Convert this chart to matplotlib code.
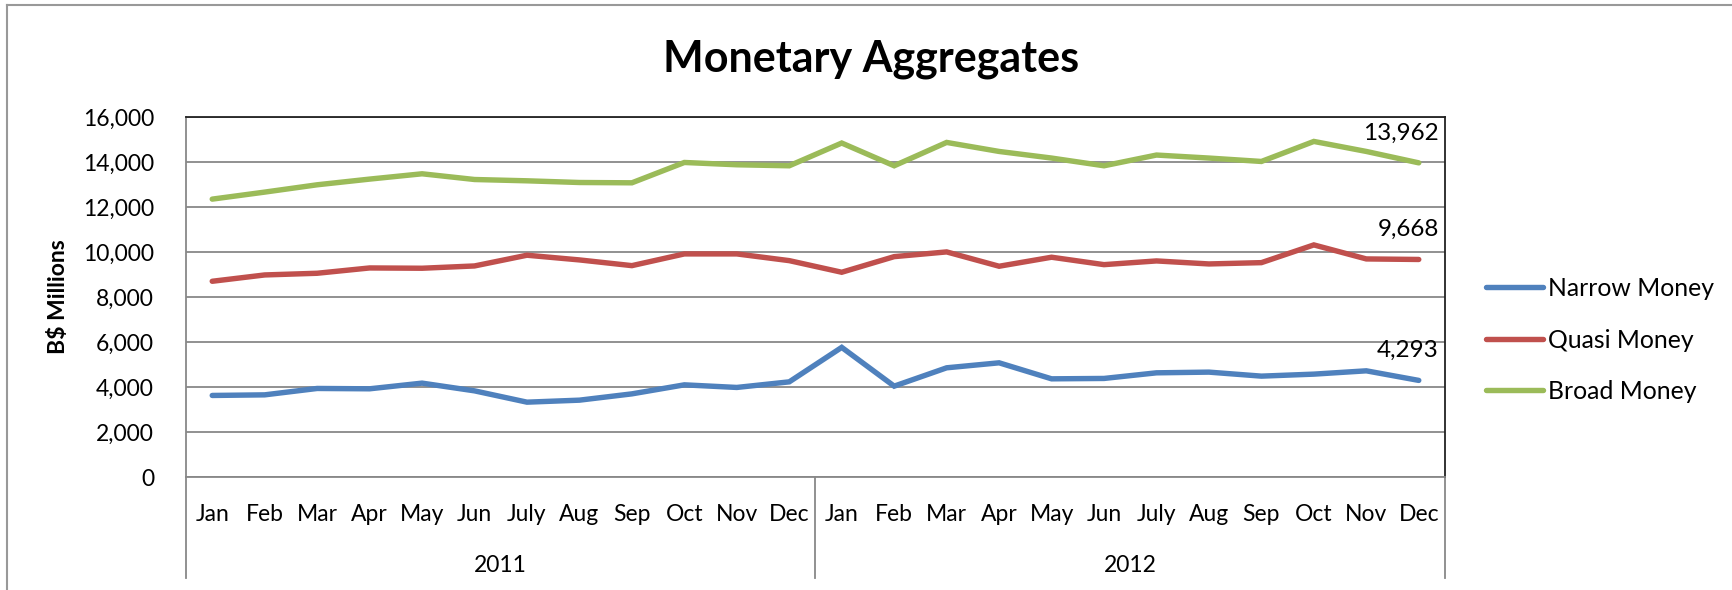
import matplotlib
matplotlib.use("Agg")
import matplotlib.pyplot as plt
from matplotlib.lines import Line2D
import matplotlib.transforms as mtransforms

plt.rcParams['font.family'] = ['Lato', 'DejaVu Sans']

# --- data (B$ millions) ---
months = ['Jan', 'Feb', 'Mar', 'Apr', 'May', 'Jun', 'July', 'Aug', 'Sep', 'Oct', 'Nov', 'Dec']
years = ['2011', '2012']
categories = months * 2

narrow_money = [3624, 3651, 3935, 3920, 4172, 3829, 3326, 3415, 3695, 4096, 3980, 4229,
                5761, 4038, 4853, 5075, 4363, 4380, 4630, 4661, 4483, 4572, 4719, 4293]
quasi_money = [8699, 8980, 9055, 9291, 9278, 9380, 9857, 9648, 9394, 9915, 9915, 9616,
               9100, 9794, 10004, 9367, 9768, 9438, 9603, 9469, 9527, 10315, 9692, 9668]
broad_money = [12350, 12662, 12987, 13240, 13476, 13222, 13164, 13089, 13075, 13979, 13877, 13832,
               14843, 13832, 14870, 14469, 14175, 13832, 14309, 14175, 14024, 14914, 14469, 13962]

series = [
    ('Narrow Money', narrow_money, '#4F81BD'),
    ('Quasi Money', quasi_money, '#C0504D'),
    ('Broad Money', broad_money, '#9BBB59'),
]

W, H = 1732, 590
fig = plt.figure(figsize=(W / 100, H / 100), dpi=100)
ax = fig.add_axes([186 / W, 1 - 477 / H, (1445 - 186) / W, 360 / H])

x = list(range(len(categories)))
for name, vals, color in series:
    ax.plot(x, vals, color=color, lw=3.9, label=name, solid_capstyle='round', solid_joinstyle='miter', zorder=3)
    ax.annotate(f'{vals[-1]:,}', (x[-1], vals[-1]), xytext=(20, 30), textcoords='offset pixels',
                ha='right', va='center', fontsize=17.5)

ax.set_xlim(-0.5, len(categories) - 0.5)
ax.set_ylim(0, 16000)
ax.set_yticks(range(0, 16001, 2000))
ax.set_yticklabels([f'{v:,}' for v in range(0, 16001, 2000)], fontsize=16.5)
ax.yaxis.grid(True, color='#888888', lw=1.3)
ax.set_axisbelow(True)
ax.tick_params(axis='y', length=0, pad=23)

ax.set_xticks(x)
ax.set_xticklabels(categories, fontsize=16.5)
ax.tick_params(axis='x', length=0, pad=19.5)

for side in ('left', 'bottom'):
    ax.spines[side].set_color('#888888')
    ax.spines[side].set_linewidth(1.3)
for side in ('top', 'right'):
    ax.spines[side].set_color('#222222')
    ax.spines[side].set_linewidth(1.3)

# year group labels and separators under the category axis
trans = mtransforms.blended_transform_factory(ax.transData, ax.transAxes)
drop = -(578 - 477) / 360
for b in (-0.5, 11.5, 23.5):
    ax.add_line(Line2D([b, b], [0, drop], transform=trans, color='#888888', lw=1.3, clip_on=False))
for i, yr in enumerate(years):
    ax.text(5.5 + 12 * i, -(571.7 - 477) / 360, yr, transform=trans, ha='center', va='baseline', fontsize=16.5)

ax.set_ylabel('B$ Millions', fontsize=16.5, fontweight='bold', labelpad=10)

fig.text(871 / W, 1 - 71.7 / H, 'Monetary Aggregates', ha='center', va='baseline', fontsize=31, fontweight='bold')

ax.legend(loc='center left', bbox_to_anchor=(1486 / W, 1 - 340 / H), bbox_transform=fig.transFigure,
          frameon=False, fontsize=17.8, handlelength=2.3, handletextpad=0.2, labelspacing=1.15,
          borderpad=0, borderaxespad=0)

# outer chart frame (top and left edges visible)
fig.add_artist(Line2D([7 / W, 7 / W], [0, 1 - 5 / H], transform=fig.transFigure, color='#999999', lw=1.5))
fig.add_artist(Line2D([7 / W, 1], [1 - 5 / H, 1 - 5 / H], transform=fig.transFigure, color='#999999', lw=1.5))

fig.savefig('out.png', dpi=100)
